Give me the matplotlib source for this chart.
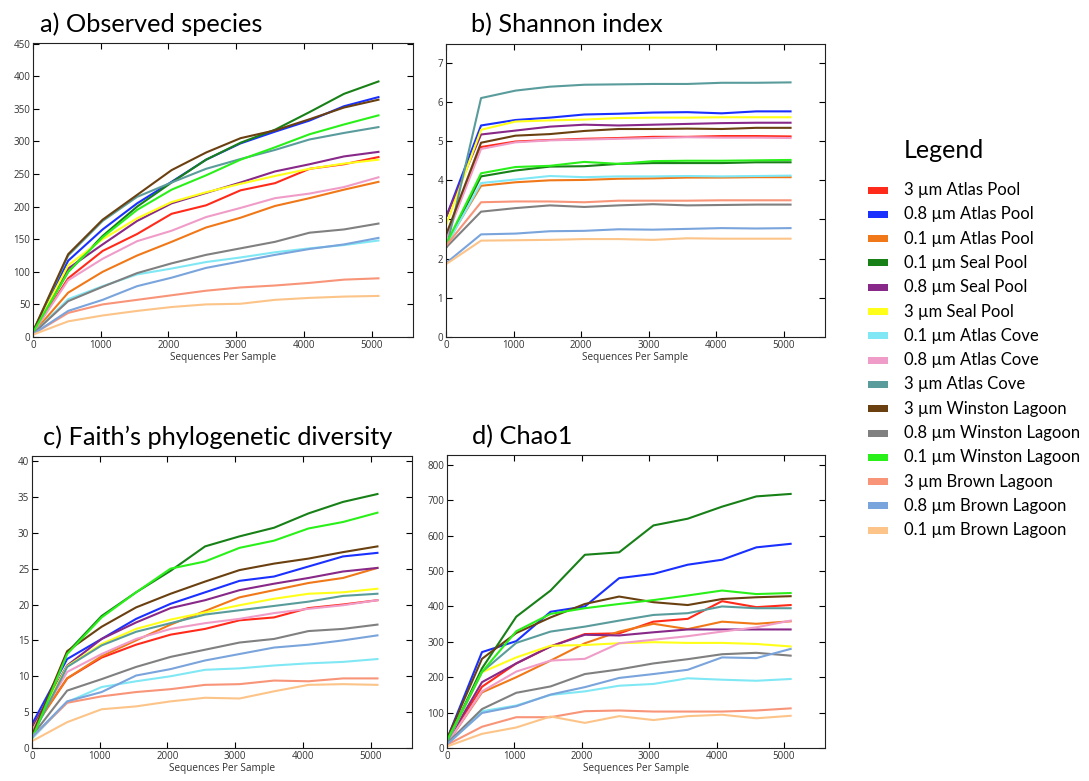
import matplotlib
matplotlib.use("Agg")
import matplotlib.pyplot as plt
from matplotlib.patches import Rectangle

depths = [10, 519, 1028, 1537, 2046, 2555, 3064, 3573, 4082, 4591, 5100]

labels = ["3 µm Atlas Pool", "0.8 µm Atlas Pool", "0.1 µm Atlas Pool", "0.1 µm Seal Pool",
          "0.8 µm Seal Pool", "3 µm Seal Pool", "0.1 µm Atlas Cove", "0.8 µm Atlas Cove",
          "3 µm Atlas Cove", "3 µm Winston Lagoon", "0.8 µm Winston Lagoon",
          "0.1 µm Winston Lagoon", "3 µm Brown Lagoon", "0.8 µm Brown Lagoon",
          "0.1 µm Brown Lagoon"]
colors = ["#ff2a1a", "#1a30ff", "#f07818", "#178017", "#882888", "#ffff1a", "#80e8f4",
          "#f09cc8", "#5a9c9c", "#6a4010", "#808080", "#2af01a", "#f89478", "#7aa4dc",
          "#fcc488"]

# a) Observed species
observed = [
    [8, 90, 132, 158, 189, 202, 225, 236, 258, 265, 276],
    [10, 117, 165, 205, 238, 272, 297, 315, 332, 354, 368],
    [7, 68, 100, 125, 146, 168, 183, 201, 213, 226, 238],
    [10, 100, 155, 200, 237, 272, 298, 318, 345, 373, 392],
    [9, 105, 142, 178, 205, 221, 237, 254, 265, 277, 284],
    [9, 110, 150, 182, 207, 222, 235, 247, 258, 266, 272],
    [6, 58, 78, 96, 105, 115, 122, 130, 136, 141, 148],
    [8, 87, 120, 147, 163, 184, 198, 213, 220, 230, 245],
    [10, 125, 178, 215, 237, 258, 273, 287, 303, 313, 322],
    [11, 127, 180, 218, 256, 283, 305, 317, 334, 352, 364],
    [6, 55, 77, 98, 113, 126, 136, 146, 160, 165, 174],
    [9, 100, 153, 195, 226, 248, 272, 291, 311, 326, 340],
    [5, 37, 50, 57, 64, 71, 76, 79, 83, 88, 90],
    [5, 40, 57, 78, 91, 106, 116, 126, 135, 142, 152],
    [4, 24, 33, 40, 46, 50, 51, 57, 60, 62, 63],
]

# b) Shannon index
shannon = [
    [2.6, 4.85, 4.99, 5.03, 5.06, 5.08, 5.11, 5.11, 5.13, 5.13, 5.12],
    [3.1, 5.40, 5.54, 5.60, 5.68, 5.70, 5.73, 5.74, 5.71, 5.76, 5.76],
    [2.4, 3.86, 3.95, 4.00, 4.01, 4.04, 4.05, 4.07, 4.07, 4.08, 4.08],
    [2.35, 4.10, 4.25, 4.35, 4.36, 4.42, 4.44, 4.44, 4.44, 4.46, 4.46],
    [3.1, 5.17, 5.27, 5.37, 5.42, 5.40, 5.42, 5.44, 5.46, 5.47, 5.47],
    [2.9, 5.29, 5.50, 5.53, 5.55, 5.59, 5.60, 5.60, 5.61, 5.61, 5.61],
    [2.35, 3.93, 4.02, 4.11, 4.08, 4.10, 4.10, 4.11, 4.10, 4.11, 4.12],
    [2.55, 4.80, 4.97, 5.02, 5.04, 5.06, 5.08, 5.10, 5.09, 5.09, 5.08],
    [2.3, 6.10, 6.29, 6.39, 6.44, 6.45, 6.46, 6.46, 6.49, 6.49, 6.50],
    [2.65, 4.96, 5.14, 5.18, 5.26, 5.31, 5.31, 5.32, 5.31, 5.34, 5.34],
    [2.3, 3.20, 3.29, 3.36, 3.32, 3.36, 3.39, 3.36, 3.37, 3.38, 3.38],
    [2.4, 4.18, 4.34, 4.37, 4.47, 4.42, 4.49, 4.50, 4.50, 4.51, 4.52],
    [2.35, 3.44, 3.46, 3.46, 3.44, 3.48, 3.48, 3.48, 3.49, 3.49, 3.49],
    [1.9, 2.62, 2.64, 2.70, 2.71, 2.75, 2.74, 2.76, 2.78, 2.77, 2.78],
    [1.87, 2.46, 2.47, 2.48, 2.50, 2.50, 2.48, 2.52, 2.51, 2.51, 2.51],
]

# c) Faith's phylogenetic diversity
faith = [
    [2.6, 9.7, 12.6, 14.4, 15.8, 16.6, 17.8, 18.2, 19.5, 20.0, 20.6],
    [3.5, 12.4, 15.2, 18.0, 20.1, 21.7, 23.3, 23.9, 25.3, 26.7, 27.2],
    [2.5, 9.7, 12.8, 15.0, 17.2, 19.1, 21.0, 22.0, 23.0, 23.7, 25.1],
    [1.8, 13.3, 18.4, 21.7, 24.7, 28.1, 29.5, 30.7, 32.7, 34.3, 35.4],
    [3.0, 11.5, 15.2, 17.5, 19.5, 20.6, 22.0, 22.9, 23.7, 24.6, 25.1],
    [2.5, 11.4, 14.5, 16.6, 17.9, 18.9, 19.9, 20.8, 21.5, 21.7, 22.2],
    [1.4, 6.4, 8.5, 9.3, 10.0, 10.9, 11.1, 11.5, 11.8, 12.0, 12.4],
    [2.5, 10.6, 13.1, 15.2, 16.6, 17.4, 18.0, 18.8, 19.4, 19.9, 20.6],
    [1.8, 11.3, 14.3, 16.2, 17.4, 18.6, 19.2, 19.8, 20.4, 21.2, 21.5],
    [2.0, 13.5, 16.9, 19.6, 21.5, 23.2, 24.8, 25.7, 26.4, 27.3, 28.1],
    [1.8, 8.0, 9.6, 11.3, 12.7, 13.7, 14.7, 15.2, 16.3, 16.6, 17.2],
    [1.5, 13.1, 18.2, 21.7, 25.0, 26.0, 27.9, 28.9, 30.6, 31.5, 32.8],
    [1.6, 6.3, 7.2, 7.8, 8.2, 8.8, 8.9, 9.4, 9.3, 9.7, 9.7],
    [1.6, 6.5, 7.8, 10.1, 11.0, 12.2, 13.1, 14.0, 14.4, 15.0, 15.7],
    [1.0, 3.6, 5.4, 5.8, 6.5, 7.0, 6.9, 7.9, 8.8, 8.9, 8.8],
]

# d) Chao1
chao1 = [
    [20, 173, 239, 287, 322, 324, 357, 365, 415, 398, 404],
    [30, 271, 302, 385, 400, 480, 492, 518, 532, 567, 577],
    [15, 157, 200, 247, 296, 329, 351, 336, 357, 351, 358],
    [20, 225, 371, 445, 546, 553, 629, 648, 682, 711, 718],
    [20, 186, 239, 287, 320, 318, 327, 335, 335, 335, 335],
    [20, 214, 256, 289, 291, 296, 299, 297, 297, 294, 287],
    [10, 104, 120, 150, 160, 176, 181, 197, 193, 190, 195],
    [15, 160, 216, 247, 252, 296, 306, 316, 329, 341, 360],
    [20, 215, 297, 329, 343, 360, 376, 381, 400, 395, 395],
    [30, 252, 325, 369, 407, 428, 412, 404, 421, 426, 429],
    [15, 110, 156, 174, 209, 222, 239, 251, 265, 269, 261],
    [25, 215, 330, 379, 395, 407, 418, 431, 445, 435, 438],
    [10, 60, 87, 87, 104, 106, 103, 103, 103, 106, 112],
    [12, 99, 118, 151, 172, 198, 209, 221, 256, 254, 280],
    [5, 40, 58, 89, 71, 90, 79, 90, 94, 84, 91],
]

titles = ["a) Observed species", "b) Shannon index",
          "c) Faith\u2019s phylogenetic diversity", "d) Chao1"]
xlabel = "Sequences Per Sample"

W, H = 1089, 781
fig = plt.figure(figsize=(W / 100, H / 100), dpi=100)

def fx(px):
    return px / W

def fy(py):
    return 1 - py / H

panels = [
    (observed, (33, 43, 413, 337), 451, list(range(0, 451, 50))),
    (shannon, (446, 44, 825, 337), 7.48, list(range(0, 8))),
    (faith, (32, 456, 412, 748), 40.7, list(range(0, 41, 5))),
    (chao1, (447, 455, 825, 748), 828, list(range(0, 801, 100))),
]
title_pos = [(40, 32), (471, 32), (43, 445), (472, 444)]

for (data, (l, t, r, b), ytop, yticks), title, (tx, ty) in zip(panels, titles, title_pos):
    ax = fig.add_axes([fx(l), fy(b), (r - l) / W, (b - t) / H])
    for series, c in zip(data, colors):
        ax.plot(depths, series, color=c, lw=1.5, solid_joinstyle="round")
    ax.set_xlim(0, 5610)
    ax.set_ylim(0, ytop)
    ax.set_xticks([0, 1000, 2000, 3000, 4000, 5000])
    ax.set_yticks(yticks)
    ax.tick_params(direction="in", top=True, right=True, length=4, width=0.8,
                   labelsize=7, labelcolor="#333333", pad=2)
    for lab in ax.get_xticklabels() + ax.get_yticklabels():
        lab.set_family("Open Sans")
    for s in ax.spines.values():
        s.set_linewidth(0.8)
        s.set_color("#222222")
    ax.set_xlabel(xlabel, fontsize=7.2, family="Open Sans", color="#333333", labelpad=1)
    fig.text(fx(tx), fy(ty), title, fontsize=18.3, family="Lato", va="baseline", ha="left")

# Legend
fig.text(fx(904), fy(158), "Legend", fontsize=18, family="Lato", va="baseline", ha="left")
y0, step = 190, 24.3
for i, (lab, c) in enumerate(zip(labels, colors)):
    yc = y0 + i * step
    fig.add_artist(Rectangle((fx(868), fy(yc + 3.5)), 20 / W, 7 / H,
                             transform=fig.transFigure, facecolor=c, edgecolor="none"))
    fig.text(fx(904), fy(yc), lab, fontsize=12, family="Lato", va="center", ha="left")

fig.savefig("out.png", dpi=100)
